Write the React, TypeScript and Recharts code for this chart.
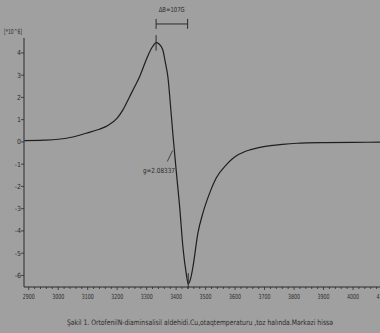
import {
  LineChart,
  Line,
  XAxis,
  YAxis,
  ReferenceLine,
  ReferenceDot,
} from 'recharts'

// magnetic field, G
const FIELD = [
  2885, 2950, 3000, 3050, 3094, 3139, 3170, 3200, 3220, 3241, 3260, 3276, 3290, 3305, 3321,
  3332, 3342, 3355, 3363, 3372, 3383, 3390, 3401, 3412, 3423, 3434, 3441, 3450, 3457, 3474,
  3491, 3514, 3536, 3570, 3590, 3610, 3630, 3650, 3680, 3720, 3760, 3810, 3900, 4000, 4100,
]
// first-derivative EPR signal, *10^6
const SIGNAL = [
  0.06, 0.08, 0.12, 0.22, 0.39, 0.57, 0.75, 1.07, 1.45, 2.0, 2.5, 2.93, 3.4, 3.9, 4.3,
  4.46, 4.4, 4.13, 3.6, 2.93, 1.3, 0.2, -1.39, -2.92, -4.72, -5.89, -6.38, -6.1, -5.62, -4.09,
  -3.19, -2.29, -1.62, -1.03, -0.77, -0.58, -0.45, -0.36, -0.26, -0.17, -0.11, -0.06, -0.03, -0.02, -0.01,
]
const X_MAJOR = [2900, 3000, 3100, 3200, 3300, 3400, 3500, 3600, 3700, 3800, 3900, 4000, 4100]
const X_TICKS = Array.from({ length: 61 }, (_, i) => 2900 + i * 20)
const Y_TICKS = [-6, -5, -4, -3, -2, -1, 0, 1, 2, 3, 4]

const data = FIELD.map((f, i) => ({ field: f, signal: SIGNAL[i] }))

const INK = '#2b2b2b'
const FONT = '"DejaVu Sans Condensed", "DejaVu Sans", sans-serif'

function XTick(props: any) {
  const { x, y, payload } = props
  const major = X_MAJOR.includes(payload.value)
  return (
    <g>
      <line x1={x} x2={x} y1={y} y2={y + (major ? 3 : 2)} stroke={INK} strokeWidth={0.8} />
      {major && (
        <text
          x={x}
          y={y + 12}
          textAnchor="middle"
          fontSize={7}
          fontFamily={FONT}
          fill={INK}
          textLength={12}
          lengthAdjust="spacingAndGlyphs"
        >
          {payload.value}
        </text>
      )}
    </g>
  )
}

function YTick(props: any) {
  const { x, y, payload } = props
  return (
    <g>
      <line x1={x - 3} x2={x} y1={y} y2={y} stroke={INK} strokeWidth={0.8} />
      <text x={x - 3} y={y + 2.5} textAnchor="end" fontSize={7} fontFamily={FONT} fill={INK}>
        {payload.value}
      </text>
    </g>
  )
}

const textShape = (label: string, anchor: string, width: number) => (p: any) => (
  <text
    x={p.cx}
    y={p.cy}
    textAnchor={anchor}
    fontSize={7}
    fontFamily={FONT}
    fill={INK}
    textLength={width}
    lengthAdjust="spacingAndGlyphs"
  >
    {label}
  </text>
)

export default function App() {
  return (
    <div
      style={{
        position: 'fixed',
        left: 0,
        top: 0,
        width: 380,
        height: 333,
        overflow: 'hidden',
        background: '#a0a0a0',
      }}
    >
      <LineChart
        width={390}
        height={300}
        data={data}
        margin={{ top: 38, right: 7.5, bottom: 0, left: 0 }}
      >
        <XAxis
          type="number"
          dataKey="field"
          domain={[2884, 4100]}
          ticks={X_TICKS}
          interval={0}
          tickSize={0}
          tickMargin={0}
          tick={<XTick />}
          height={13}
          axisLine={{ stroke: INK, strokeWidth: 1 }}
          allowDataOverflow
        />
        <YAxis
          type="number"
          domain={[-6.52, 4.67]}
          ticks={Y_TICKS}
          interval={0}
          tickSize={0}
          tickMargin={0}
          tick={<YTick />}
          width={24}
          axisLine={{ stroke: INK, strokeWidth: 1 }}
          allowDataOverflow
        />
        <Line
          type="monotone"
          dataKey="signal"
          stroke="#1e1e1e"
          strokeWidth={1.2}
          dot={false}
          isAnimationActive={false}
        />
        {/* ΔB bracket above the plot */}
        <ReferenceLine
          segment={[{ x: 3332, y: 5.3 }, { x: 3439, y: 5.3 }]}
          stroke={INK}
          strokeWidth={1}
          ifOverflow="visible"
        />
        <ReferenceLine
          segment={[{ x: 3332, y: 5.08 }, { x: 3332, y: 5.53 }]}
          stroke={INK}
          ifOverflow="visible"
        />
        <ReferenceLine
          segment={[{ x: 3439, y: 5.08 }, { x: 3439, y: 5.53 }]}
          stroke={INK}
          ifOverflow="visible"
        />
        <ReferenceDot x={3385} y={5.85} r={0} ifOverflow="visible" shape={textShape('ΔB=107G', 'middle', 26)} />
        {/* peak and trough markers */}
        <ReferenceLine
          segment={[{ x: 3332, y: 4.1 }, { x: 3332, y: 4.8 }]}
          stroke={INK}
          ifOverflow="visible"
        />
        <ReferenceLine
          segment={[{ x: 3441, y: -5.9 }, { x: 3441, y: -6.6 }]}
          stroke={INK}
          ifOverflow="visible"
        />
        {/* g-factor label */}
        <ReferenceLine
          segment={[{ x: 3370, y: -0.88 }, { x: 3388, y: -0.39 }]}
          stroke={INK}
          strokeWidth={0.8}
          ifOverflow="visible"
        />
        <ReferenceDot x={3396} y={-1.39} r={0} ifOverflow="visible" shape={textShape('g=2.08337', 'end', 32)} />
      </LineChart>
      <svg width={380} height={333} style={{ position: 'absolute', left: 0, top: 0, pointerEvents: 'none' }}>
        <text x={4} y={34} fontSize={7} fontFamily={FONT} fill={INK} textLength={18} lengthAdjust="spacingAndGlyphs">
          [*10^6]
        </text>
        <text
          x={67}
          y={325}
          fontSize={7.5}
          fontFamily={FONT}
          fill={INK}
          textLength={266}
          lengthAdjust="spacingAndGlyphs"
        >
          Şəkil 1. OrtofenilN-diaminsalisil aldehidi.Cu,otaqtemperaturu ,toz halında.Mərkəzi hissə
        </text>
      </svg>
    </div>
  )
}
